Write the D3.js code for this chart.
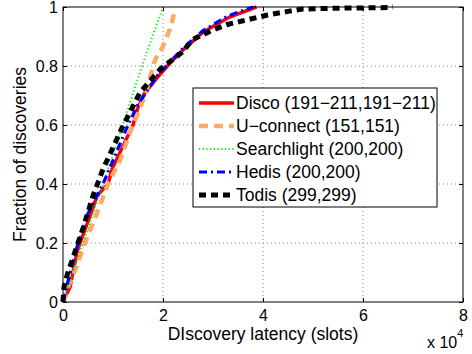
<!DOCTYPE html>
<html>
<head>
<meta charset="utf-8">
<script src="https://cdn.jsdelivr.net/npm/d3@7"></script>
<style>
  body { margin: 0; background: #fff; }
  svg { font-family: "Liberation Sans", Arial, sans-serif; }
</style>
</head>
<body>
<svg width="472" height="354"></svg>
<script>
// x values in units of 10^4 slots, y = fraction of discoveries
const disco = [[0,0],[0.04,0.015],[0.14,0.05],[0.28,0.17],[0.34,0.2],[0.56,0.3],[0.68,0.36],[0.9,0.4],[0.98,0.45],[1.4,0.6],[1.5,0.66],[1.64,0.71],[1.88,0.76],[2.14,0.81],[2.4,0.854],[2.8,0.915],[3.33,0.966],[3.87,1.0]];
const uconnect = [[0,0],[0.1,0.05],[0.27,0.12],[0.44,0.2],[0.7,0.31],[0.9,0.4],[1.14,0.48],[1.35,0.58],[1.64,0.7],[1.84,0.82],[1.98,0.86],[2.15,0.93],[2.21,0.97],[2.24,0.99]];
const searchlight = [[0,0],[0.98,0.49],[1.6,0.81],[2.0,1.0]];
const hedis = [[0,0],[0.1,0.07],[0.3,0.2],[0.5,0.3],[0.8,0.4],[1.3,0.6],[1.5,0.67],[1.9,0.77],[2.4,0.86],[2.8,0.92],[3.3,0.97],[3.8,1.0]];
const todis = [[0,0],[0.02,0.05],[0.08,0.09],[0.24,0.17],[0.4,0.25],[0.6,0.36],[0.8,0.45],[1.18,0.59],[1.54,0.71],[1.95,0.79],[2.37,0.845],[2.6,0.89],[2.97,0.92],[3.27,0.94],[3.67,0.956],[4.09,0.973],[4.53,0.986],[4.79,0.993],[5.5,0.996],[6.5,0.998],[6.6,1.0]];

const names = ['Disco (191\u2212211,191\u2212211)', 'U\u2212connect (151,151)', 'Searchlight (200,200)', 'Hedis (200,200)', 'Todis (299,299)'];
const xTicks = [0, 2, 4, 6, 8];
const yTicks = [0, 0.2, 0.4, 0.6, 0.8, 1];

const series = [
  { name: names[0], data: disco, color: '#ff0000', width: 3.5, dash: null },
  { name: names[1], data: uconnect, color: '#ffaa66', width: 4.5, dash: '9,6' },
  { name: names[2], data: searchlight, color: '#00ee00', width: 2, dash: '1.2,2.5' },
  { name: names[3], data: hedis, color: '#0000ff', width: 3.2, dash: '8,4,2,4' },
  { name: names[4], data: todis, color: '#000000', width: 5, dash: '7,5' }
];

const svg = d3.select('svg');
const mLeft = 63, mRight = 463, mTop = 7, mBottom = 302;

const x = d3.scaleLinear().domain([0, 8]).range([mLeft, mRight]);
const y = d3.scaleLinear().domain([0, 1]).range([mBottom, mTop]);

// grid
svg.append('g').selectAll('line')
  .data(xTicks.slice(1, -1))
  .enter().append('line')
  .attr('x1', d => x(d)).attr('x2', d => x(d))
  .attr('y1', mTop).attr('y2', mBottom)
  .attr('stroke', '#888').attr('stroke-dasharray', '1,3');
svg.append('g').selectAll('line')
  .data(yTicks.slice(1, -1))
  .enter().append('line')
  .attr('y1', d => y(d)).attr('y2', d => y(d))
  .attr('x1', mLeft).attr('x2', mRight)
  .attr('stroke', '#888').attr('stroke-dasharray', '1,3');

// curves
const line = d3.line().x(d => x(d[0])).y(d => y(d[1]));
svg.append('g').selectAll('path')
  .data(series)
  .enter().append('path')
  .attr('d', d => line(d.data))
  .attr('fill', 'none')
  .attr('stroke', d => d.color)
  .attr('stroke-width', d => d.width)
  .attr('stroke-dasharray', d => d.dash);

// axes box
svg.append('rect')
  .attr('x', mLeft).attr('y', mTop)
  .attr('width', mRight - mLeft).attr('height', mBottom - mTop)
  .attr('fill', 'none').attr('stroke', '#000').attr('stroke-width', 1);

const xAxis = d3.axisBottom(x).tickValues(xTicks).tickSize(-4).tickPadding(8);
svg.append('g').attr('transform', `translate(0,${mBottom})`).call(xAxis)
  .call(g => g.select('.domain').remove())
  .call(g => g.selectAll('text').attr('font-size', 16).attr('fill', '#000').attr('font-family', 'Liberation Sans, Arial'));
svg.append('g').attr('transform', `translate(0,${mTop})`).call(d3.axisTop(x).tickValues(xTicks).tickSize(-4).tickFormat(''))
  .call(g => g.select('.domain').remove());

const yAxis = d3.axisLeft(y).tickValues(yTicks).tickSize(-4).tickPadding(5).tickFormat(d3.format('~g'));
svg.append('g').attr('transform', `translate(${mLeft},0)`).call(yAxis)
  .call(g => g.select('.domain').remove())
  .call(g => g.selectAll('text').attr('font-size', 16).attr('fill', '#000').attr('font-family', 'Liberation Sans, Arial'));
svg.append('g').attr('transform', `translate(${mRight},0)`).call(d3.axisRight(y).tickValues(yTicks).tickSize(-4).tickFormat(''))
  .call(g => g.select('.domain').remove());

// labels
svg.append('text')
  .attr('x', 263).attr('y', 340)
  .attr('text-anchor', 'middle').attr('font-size', 17.5)
  .text('DIscovery latency (slots)');
svg.append('text')
  .attr('transform', `translate(26,${(mTop + mBottom) / 2}) rotate(-90)`)
  .attr('text-anchor', 'middle').attr('font-size', 17.5)
  .text('Fraction of discoveries');
const mult = svg.append('text').attr('x', 427).attr('y', 348).attr('font-size', 16);
mult.append('tspan').text('x 10');
mult.append('tspan').attr('dy', -11).attr('font-size', 11).text('4');

// legend
const lg = svg.append('g').attr('transform', 'translate(193,88)');
lg.append('rect').attr('width', 244).attr('height', 119)
  .attr('fill', '#fff').attr('stroke', '#000').attr('stroke-width', 1);
const item = lg.selectAll('g.item')
  .data(series)
  .enter().append('g')
  .attr('class', 'item')
  .attr('transform', (d, i) => `translate(0,${15 + i * 23})`);
item.append('line')
  .attr('x1', 6).attr('x2', 41)
  .attr('stroke', d => d.color)
  .attr('stroke-width', d => d.width)
  .attr('stroke-dasharray', d => d.dash);
item.append('text')
  .attr('x', 43).attr('dy', '0.35em')
  .attr('font-size', 17.5)
  .text(d => d.name);
</script>
</body>
</html>
